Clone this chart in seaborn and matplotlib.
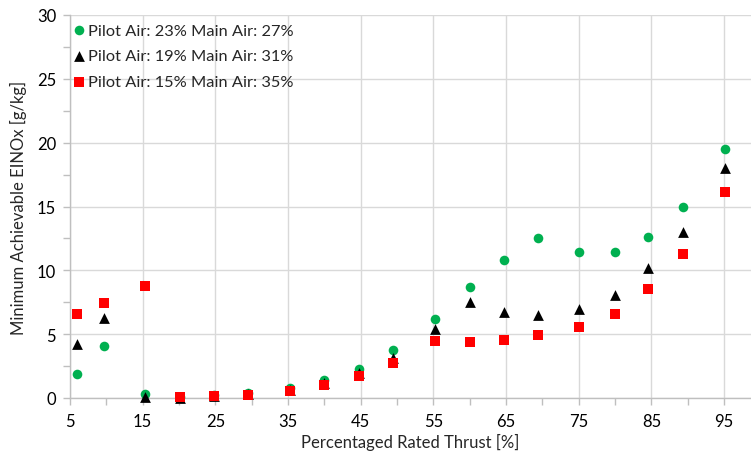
import matplotlib
matplotlib.use("Agg")
import matplotlib.pyplot as plt
import seaborn as sns
import pandas as pd
from matplotlib.ticker import MultipleLocator, FixedLocator

thrust = [5.9, 9.7, 15.3, 20.1, 24.8, 29.5, 35.3, 40.0, 44.8, 49.5,
          55.2, 60.0, 64.7, 69.4, 75.1, 80.0, 84.5, 89.4, 95.1]
green_vals = [1.85, 4.05, 0.35, 0.1, 0.2, 0.42, 0.78, 1.43, 2.3, 3.75,
              6.2, 8.7, 10.8, 12.5, 11.4, 11.45, 12.6, 14.95, 19.5]
black_vals = [4.2, 6.25, 0.05, 0.0, 0.15, 0.32, 0.65, 1.2, 1.95, 3.1,
              5.4, 7.5, 6.75, 6.5, 6.95, 8.1, 10.15, 13.0, 18.05]
red_vals = [6.55, 7.45, 8.75, 0.05, 0.13, 0.26, 0.55, 1.02, 1.72, 2.78,
            4.5, 4.42, 4.57, 4.95, 5.55, 6.6, 8.5, 11.3, 16.1]

series = ["Pilot Air: 23% Main Air: 27%",
          "Pilot Air: 19% Main Air: 31%",
          "Pilot Air: 15% Main Air: 35%"]
colors = ["#00B050", "#000000", "#FF0000"]
markers = ["o", "^", "s"]
sizes = [48, 60, 58]
x_ticks = [5, 15, 25, 35, 45, 55, 65, 75, 85, 95]

sns.set_theme(style="white")
plt.rcParams['font.family'] = ['Lato', 'DejaVu Sans']

fig = plt.figure(figsize=(7.51, 4.52), dpi=100)
ax = fig.add_axes([70/751, 53/452, (751-70)/751, (399-16)/452])

for name, vals, c, m, s in zip(series, [green_vals, black_vals, red_vals], colors, markers, sizes):
    df = pd.DataFrame({"x": thrust, "y": vals})
    sns.scatterplot(data=df, x="x", y="y", ax=ax, color=c, marker=m, s=s,
                    linewidth=0, label=name, zorder=3, clip_on=False)

ax.set_xlim(5, 98.7)
ax.set_ylim(0, 30)
ax.xaxis.set_major_locator(FixedLocator(x_ticks))
ax.xaxis.set_minor_locator(FixedLocator([10, 20, 30, 40, 50, 60, 70, 80, 90]))
ax.yaxis.set_major_locator(MultipleLocator(5))
ax.yaxis.set_minor_locator(MultipleLocator(2.5))

ax.grid(True, which="major", color="#D9D9D9", linewidth=1)
for sp in ["top", "right"]:
    ax.spines[sp].set_visible(False)
for sp in ["left", "bottom"]:
    ax.spines[sp].set_color("#BFBFBF")
    ax.spines[sp].set_linewidth(1)

ax.tick_params(axis="both", which="both", direction="out", color="#BFBFBF",
               labelsize=12, labelcolor="#000000")
ax.tick_params(axis="both", which="major", length=5, width=1)
ax.tick_params(axis="both", which="minor", length=5, width=1)
ax.tick_params(axis="x", which="both", bottom=True, pad=6)
ax.tick_params(axis="y", which="both", left=True, pad=5)

ax.set_xlabel("Percentaged Rated Thrust [%]", fontsize=12, labelpad=3)
ax.set_ylabel("Minimum Achievable EINOx [g/kg]", fontsize=12, labelpad=7)

leg = ax.legend(loc="upper left", bbox_to_anchor=(0, 1 - 5/383), frameon=False,
                fontsize=11.8, handletextpad=0.2, borderaxespad=0.0,
                labelspacing=0.68, handlelength=0.7, borderpad=0.2)

fig.savefig("out.png", dpi=100)
